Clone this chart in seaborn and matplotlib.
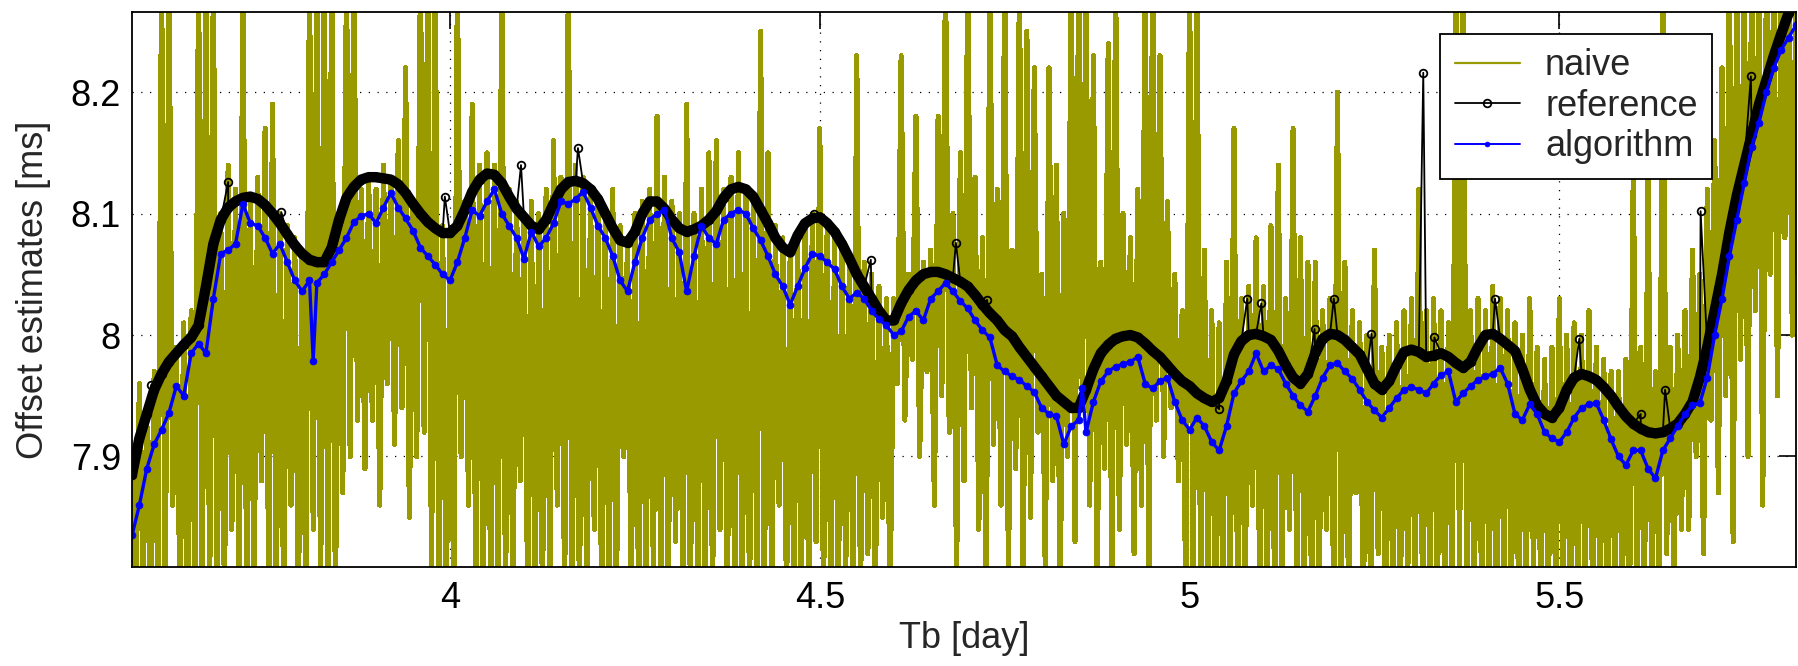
import numpy as np
import pandas as pd
import matplotlib
matplotlib.use("Agg")
import matplotlib.pyplot as plt
import seaborn as sns

# ---------------- data ----------------
t_start, t_stop, n_t = 3.57, 5.82, 226          # sampling grid, 0.01 day step
t = np.round(np.linspace(t_start, t_stop, n_t), 2)

# naive estimator: upper and lower sample of each 0.01-day slot
naive_hi = [
    7.90, 7.96, 7.93, 7.97, 8.30, 8.30, 7.99, 8.01, 8.02, 8.30,
    8.30, 8.30, 8.10, 8.14, 8.12, 8.30, 8.11, 8.13, 8.17, 8.19,
    8.10, 8.09, 8.08, 8.07, 8.30, 8.30, 8.30, 8.30, 8.09, 8.30,
    8.30, 8.12, 8.13, 8.12, 8.14, 8.13, 8.16, 8.22, 8.11, 8.30,
    8.30, 8.30, 8.09, 8.08, 8.30, 8.11, 8.19, 8.14, 8.15, 8.14,
    8.30, 8.12, 8.11, 8.10, 8.11, 8.10, 8.12, 8.16, 8.13, 8.30,
    8.14, 8.13, 8.12, 8.11, 8.10, 8.12, 8.09, 8.08, 8.10, 8.11,
    8.12, 8.18, 8.13, 8.11, 8.10, 8.19, 8.10, 8.12, 8.15, 8.16,
    8.12, 8.13, 8.15, 8.12, 8.11, 8.25, 8.15, 8.09, 8.08, 8.07,
    8.08, 8.09, 8.10, 8.17, 8.09, 8.08, 8.07, 8.06, 8.23, 8.06,
    8.05, 8.04, 8.03, 8.03, 8.23, 8.05, 8.18, 8.06, 8.07, 8.18,
    8.30, 8.10, 8.15, 8.30, 8.13, 8.08, 8.30, 8.12, 8.30, 8.07,
    8.30, 8.25, 8.22, 8.05, 8.22, 8.14, 8.10, 8.30, 8.30, 8.30,
    8.23, 8.06, 8.24, 8.30, 8.10, 8.08, 8.12, 8.30, 8.30, 8.23,
    8.11, 8.05, 8.02, 8.30, 8.30, 8.07, 8.02, 8.01, 8.06, 8.17,
    8.03, 8.04, 8.08, 8.04, 8.09, 8.14, 8.03, 8.17, 8.08, 8.06,
    8.06, 8.02, 8.03, 8.20, 8.06, 8.02, 8.01, 8.00, 8.07, 7.99,
    8.00, 8.01, 8.02, 8.03, 8.12, 8.02, 8.03, 8.02, 8.01, 8.30,
    8.30, 8.02, 8.03, 8.02, 8.04, 8.03, 8.02, 8.01, 8.00, 8.03,
    7.99, 7.98, 7.99, 8.03, 8.00, 8.01, 8.00, 8.02, 7.99, 7.98,
    7.97, 7.97, 7.98, 8.14, 7.99, 8.13, 7.97, 8.30, 7.99, 8.00,
    8.02, 8.07, 8.05, 8.12, 8.16, 8.22, 8.30, 8.30, 8.30, 8.30,
    8.30, 8.30, 8.30, 8.30, 8.30, 8.30,
]
naive_lo = [
    7.78, 7.80, 7.78, 7.79, 7.78, 7.86, 7.78, 7.78, 7.80, 7.78,
    7.78, 7.78, 7.78, 7.84, 7.78, 7.78, 7.78, 7.88, 7.78, 7.78,
    7.78, 7.86, 7.78, 7.78, 7.84, 7.78, 7.78, 7.78, 7.87, 7.90,
    7.93, 7.89, 7.93, 7.86, 7.96, 7.91, 7.94, 7.85, 7.90, 7.92,
    7.80, 7.78, 7.78, 7.78, 7.90, 7.86, 7.78, 7.78, 7.78, 7.78,
    7.78, 7.78, 7.88, 7.78, 7.78, 7.78, 7.80, 7.86, 7.78, 7.78,
    7.78, 7.78, 7.84, 7.78, 7.78, 7.78, 7.90, 7.78, 7.78, 7.78,
    7.80, 7.78, 7.78, 7.83, 7.78, 7.78, 7.79, 7.78, 7.78, 7.84,
    7.78, 7.78, 7.78, 7.78, 7.80, 7.78, 7.78, 7.86, 7.78, 7.78,
    7.78, 7.78, 7.83, 7.78, 7.78, 7.78, 7.80, 7.78, 7.78, 7.82,
    7.78, 7.85, 7.78, 7.96, 7.93, 7.98, 7.90, 7.97, 7.86, 7.95,
    7.92, 7.80, 7.88, 7.94, 7.84, 7.78, 7.91, 7.86, 7.80, 7.89,
    7.78, 7.85, 7.92, 7.80, 7.88, 7.78, 7.90, 7.83, 7.94, 7.86,
    7.80, 7.89, 7.78, 7.84, 7.91, 7.82, 7.86, 7.78, 7.93, 7.90,
    7.94, 7.88, 7.78, 7.78, 7.78, 7.80, 7.78, 7.79, 7.78, 7.78,
    7.78, 7.86, 7.78, 7.78, 7.78, 7.80, 7.84, 7.78, 7.78, 7.78,
    7.78, 7.84, 7.78, 7.78, 7.78, 7.87, 7.78, 7.78, 7.82, 7.78,
    7.78, 7.78, 7.80, 7.78, 7.78, 7.79, 7.78, 7.78, 7.78, 7.80,
    7.78, 7.79, 7.78, 7.78, 7.78, 7.80, 7.78, 7.78, 7.78, 7.81,
    7.78, 7.78, 7.79, 7.78, 7.78, 7.78, 7.80, 7.78, 7.78, 7.78,
    7.80, 7.78, 7.78, 7.79, 7.78, 7.78, 7.78, 7.82, 7.80, 7.84,
    7.84, 7.90, 7.82, 7.93, 7.87, 7.95, 7.83, 7.98, 7.90, 8.02,
    7.86, 8.05, 7.95, 8.08, 8.00, 8.10,
]

# reference (smooth part) on the same grid
reference = [
    7.885, 7.915, 7.935, 7.955, 7.968, 7.978, 7.985, 7.992, 7.998, 8.008,
    8.040, 8.075, 8.095, 8.105, 8.110, 8.113, 8.114, 8.112, 8.107, 8.100,
    8.092, 8.083, 8.074, 8.067, 8.062, 8.060, 8.060, 8.072, 8.095, 8.113,
    8.122, 8.128, 8.130, 8.130, 8.129, 8.128, 8.124, 8.117, 8.108, 8.100,
    8.093, 8.088, 8.084, 8.084, 8.090, 8.103, 8.118, 8.128, 8.133, 8.132,
    8.125, 8.114, 8.104, 8.097, 8.090, 8.087, 8.095, 8.108, 8.120, 8.126,
    8.127, 8.125, 8.120, 8.112, 8.100, 8.088, 8.078, 8.076, 8.085, 8.100,
    8.110, 8.110, 8.104, 8.095, 8.088, 8.085, 8.087, 8.090, 8.095, 8.102,
    8.113, 8.120, 8.122, 8.120, 8.114, 8.103, 8.092, 8.080, 8.072, 8.068,
    8.082, 8.092, 8.096, 8.097, 8.092, 8.085, 8.075, 8.063, 8.050, 8.040,
    8.030, 8.020, 8.012, 8.012, 8.026, 8.037, 8.045, 8.050, 8.052, 8.052,
    8.050, 8.047, 8.044, 8.040, 8.033, 8.025, 8.018, 8.012, 8.004, 7.999,
    7.990, 7.982, 7.974, 7.966, 7.958, 7.950, 7.945, 7.940, 7.940, 7.955,
    7.972, 7.985, 7.992, 7.997, 7.999, 8.000, 7.998, 7.993, 7.987, 7.982,
    7.975, 7.968, 7.962, 7.958, 7.952, 7.948, 7.945, 7.948, 7.962, 7.984,
    7.995, 8.000, 8.001, 7.999, 7.996, 7.987, 7.975, 7.965, 7.960, 7.968,
    7.985, 7.997, 8.001, 8.000, 7.996, 7.990, 7.984, 7.972, 7.960, 7.955,
    7.962, 7.975, 7.986, 7.988, 7.986, 7.982, 7.983, 7.985, 7.982, 7.977,
    7.973, 7.978, 7.990, 8.000, 8.001, 7.997, 7.992, 7.987, 7.972, 7.955,
    7.942, 7.935, 7.932, 7.940, 7.955, 7.965, 7.968, 7.966, 7.963, 7.957,
    7.950, 7.941, 7.933, 7.927, 7.923, 7.920, 7.919, 7.920, 7.923, 7.927,
    7.935, 7.945, 7.965, 7.990, 8.020, 8.050, 8.085, 8.115, 8.140, 8.165,
    8.190, 8.210, 8.230, 8.248, 8.265, 8.280,
]
# isolated outlier samples of the reference
ref_spike_t = [3.596, 3.700, 3.772, 3.993, 4.096, 4.173, 4.492, 4.569, 4.684,
               4.726, 5.040, 5.078, 5.097, 5.169, 5.195, 5.246, 5.316, 5.331,
               5.413, 5.527, 5.610, 5.643, 5.691, 5.759]
ref_spike_v = [7.959, 8.126, 8.101, 8.114, 8.140, 8.154, 8.100, 8.062, 8.076,
               8.029, 7.939, 8.030, 8.026, 8.005, 8.030, 8.001, 8.216, 7.998,
               8.030, 7.997, 7.935, 7.955, 8.102, 8.213]

algorithm = [
    7.835, 7.860, 7.890, 7.910, 7.922, 7.936, 7.958, 7.950, 7.985, 7.993,
    7.985, 8.030, 8.067, 8.070, 8.075, 8.108, 8.092, 8.090, 8.080, 8.067,
    8.075, 8.060, 8.045, 8.036, 8.045, 8.043, 8.050, 8.060, 8.070, 8.080,
    8.093, 8.098, 8.100, 8.092, 8.105, 8.117, 8.105, 8.096, 8.086, 8.072,
    8.065, 8.058, 8.050, 8.045, 8.060, 8.080, 8.103, 8.098, 8.110, 8.120,
    8.100, 8.090, 8.080, 8.063, 8.085, 8.073, 8.080, 8.092, 8.110, 8.108,
    8.112, 8.118, 8.105, 8.090, 8.080, 8.065, 8.045, 8.036, 8.060, 8.080,
    8.095, 8.100, 8.103, 8.080, 8.068, 8.036, 8.065, 8.090, 8.080, 8.075,
    8.095, 8.100, 8.103, 8.100, 8.088, 8.078, 8.065, 8.050, 8.040, 8.025,
    8.040, 8.055, 8.067, 8.065, 8.060, 8.054, 8.040, 8.030, 8.035, 8.030,
    8.020, 8.013, 8.008, 8.000, 8.003, 8.015, 8.020, 8.012, 8.030, 8.036,
    8.043, 8.036, 8.028, 8.022, 8.012, 8.004, 7.998, 7.975, 7.970, 7.966,
    7.963, 7.958, 7.953, 7.940, 7.935, 7.933, 7.910, 7.925, 7.930, 7.920,
    7.945, 7.962, 7.970, 7.974, 7.976, 7.978, 7.982, 7.960, 7.956, 7.962,
    7.965, 7.945, 7.930, 7.922, 7.932, 7.925, 7.912, 7.905, 7.925, 7.952,
    7.962, 7.970, 7.985, 7.970, 7.975, 7.972, 7.960, 7.950, 7.942, 7.937,
    7.950, 7.965, 7.975, 7.977, 7.970, 7.964, 7.955, 7.945, 7.938, 7.932,
    7.940, 7.948, 7.955, 7.957, 7.955, 7.952, 7.960, 7.967, 7.970, 7.945,
    7.952, 7.958, 7.963, 7.966, 7.968, 7.973, 7.960, 7.935, 7.930, 7.943,
    7.935, 7.920, 7.915, 7.912, 7.920, 7.932, 7.940, 7.943, 7.944, 7.930,
    7.914, 7.900, 7.893, 7.905, 7.905, 7.890, 7.882, 7.905, 7.915, 7.925,
    7.935, 7.942, 7.944, 7.965, 8.000, 8.030, 8.065, 8.095, 8.125, 8.155,
    8.175, 8.200, 8.220, 8.235, 8.245, 8.255,
]
algo_spike_t = [3.815, 4.855]
algo_spike_v = [7.979, 7.956]

x_ticks = [4, 4.5, 5, 5.5]
x_tick_labels = ["4", "4.5", "5", "5.5"]
y_ticks = [7.9, 8.0, 8.1, 8.2]
y_tick_labels = ["7.9", "8", "8.1", "8.2"]
x_label = "Tb [day]"
y_label = "Offset estimates [ms]"
series_names = ["naive", "reference", "algorithm"]

# ---------------- assemble tables ----------------
naive_df = pd.DataFrame({
    "t": np.concatenate([t, t + 0.005]),
    "v": np.concatenate([naive_hi, naive_lo]),
    "k": np.concatenate([np.arange(n_t) * 2, np.arange(n_t) * 2 + 1]),
}).sort_values("k")

ref_smooth = pd.DataFrame({"t": t, "v": reference})
ref_all = pd.concat([ref_smooth, pd.DataFrame({"t": ref_spike_t, "v": ref_spike_v})]
                    ).sort_values("t")
algo_all = pd.concat([pd.DataFrame({"t": t, "v": algorithm}),
                      pd.DataFrame({"t": algo_spike_t, "v": algo_spike_v})]
                     ).sort_values("t")

# ---------------- drawing ----------------
sns.set_style("white")
plt.rcParams["font.family"] = ["Liberation Sans", "DejaVu Sans"]

W, H = 1798, 666
fig = plt.figure(figsize=(W / 100, H / 100), dpi=100)
ax = fig.add_axes([132 / W, 99 / H, 1664 / W, 555 / H])

olive = "#999900"
sns.lineplot(data=naive_df, x="t", y="v", ax=ax, color=olive, lw=3.0,
             estimator=None, sort=False, label=series_names[0],
             antialiased=False)
sns.lineplot(data=ref_smooth, x="t", y="v", ax=ax, color="k", lw=7.5,
             estimator=None, sort=False, label="_nolegend_",
             solid_capstyle="round", solid_joinstyle="round")
sns.lineplot(data=ref_all, x="t", y="v", ax=ax, color="k", lw=1.3,
             estimator=None, sort=False, label=series_names[1],
             marker="o", markersize=5.5, markerfacecolor="none",
             markeredgecolor="k", markeredgewidth=1.3)
sns.lineplot(data=algo_all, x="t", y="v", ax=ax, color="#0000ff", lw=2.4,
             estimator=None, sort=False, label=series_names[2],
             marker="o", markersize=5.0, markerfacecolor="#0000ff",
             markeredgecolor="#0000ff", markeredgewidth=0.5)

ax.set_xlim(t_start, t_stop)
ax.set_ylim(7.809, 8.266)
ax.set_xticks(x_ticks)
ax.set_xticklabels(x_tick_labels)
ax.set_yticks(y_ticks)
ax.set_yticklabels(y_tick_labels)
ax.set_xlabel(x_label, fontsize=26, labelpad=4)
ax.set_ylabel(y_label, fontsize=26, labelpad=14)

ax.grid(True, color="k", linestyle=(0, (1, 6)), lw=0.9)
ax.set_axisbelow(True)
ax.tick_params(direction="in", length=12, width=1.2, top=True, right=True,
               labelsize=26, colors="k")
ax.tick_params(axis="x", pad=10)
ax.tick_params(axis="y", pad=8)
for s in ax.spines.values():
    s.set_color("k")
    s.set_linewidth(1.3)
    s.set_visible(True)
    s.set_zorder(5)

leg = ax.legend(loc="upper right", bbox_to_anchor=(0.9495, 0.9604),
                borderaxespad=0, frameon=True, fancybox=False, framealpha=1,
                edgecolor="k", fontsize=26, handlelength=1.8,
                handletextpad=0.7, labelspacing=0.15, borderpad=0.4)
leg.get_frame().set_linewidth(1.3)
leg.get_lines()[0].set_linewidth(1.6)
leg.get_lines()[0].set_antialiased(True)
leg.get_lines()[2].set_linewidth(1.4)
leg.get_lines()[2].set_markersize(3.5)
leg.set_zorder(10)

fig.savefig("out.png", dpi=100)
